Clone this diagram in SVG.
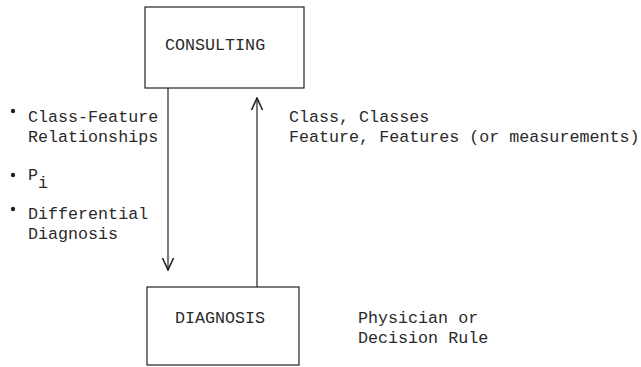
<svg xmlns="http://www.w3.org/2000/svg" width="641" height="367" viewBox="0 0 641 367">
  <style>
    text { font-family: "Liberation Mono", "Courier New", monospace; font-size: 16.7px; fill: #2a2a2a; }
    .box { fill: none; stroke: #222; stroke-width: 1.2; }
    .wire { fill: none; stroke: #222; stroke-width: 1.2; }
    .dot { fill: #222; }
  </style>
  <defs>
    <!-- open "V" arrowhead used on both flow lines -->
    <marker id="vee" viewBox="0 0 14 14" refX="13" refY="7" markerWidth="14" markerHeight="14" markerUnits="userSpaceOnUse" orient="auto">
      <path d="M1,1.5 L13,7 L1,12.5" fill="none" stroke="#222" stroke-width="1.6"/>
    </marker>
  </defs>

  <g id="consulting">
    <rect class="box" x="145" y="7" width="159" height="81"/>
    <text x="165" y="50">CONSULTING</text>
  </g>

  <g id="diagnosis">
    <rect class="box" x="147" y="287" width="152" height="78"/>
    <text x="175" y="323">DIAGNOSIS</text>
  </g>

  <g id="connectors">
    <line class="wire" x1="168" y1="88" x2="168" y2="270" marker-end="url(#vee)"/>
    <line class="wire" x1="257" y1="287" x2="257" y2="98" marker-end="url(#vee)"/>
  </g>

  <g id="down-labels">
    <circle class="dot" cx="13" cy="111" r="2.2"/>
    <text x="28" y="122">Class-Feature</text>
    <text x="28" y="142">Relationships</text>
    <circle class="dot" cx="13" cy="175" r="2.2"/>
    <text x="28" y="180" font-size="13">P<tspan dy="8" font-size="16.7">i</tspan></text>
    <circle class="dot" cx="13" cy="209" r="2.2"/>
    <text x="28" y="219">Differential</text>
    <text x="28" y="239">Diagnosis</text>
  </g>

  <g id="up-labels">
    <text x="289" y="122">Class, Classes</text>
    <text x="289" y="142">Feature, Features (or measurements)</text>
  </g>

  <g id="diagnosis-note">
    <text x="358" y="323">Physician or</text>
    <text x="358" y="343">Decision Rule</text>
  </g>
</svg>
